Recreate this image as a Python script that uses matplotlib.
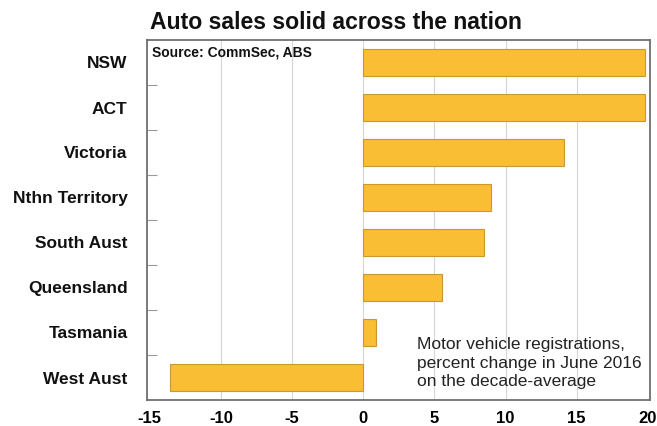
import matplotlib
matplotlib.use("Agg")
import matplotlib.pyplot as plt
import numpy as np

plt.rcParams['font.family'] = ['Liberation Sans', 'DejaVu Sans']

states = ["NSW", "ACT", "Victoria", "Nthn Territory", "South Aust",
          "Queensland", "Tasmania", "West Aust"]
pct_change = [19.8, 19.8, 14.1, 9.0, 8.5, 5.5, 0.9, -13.6]
x_ticks = [-15, -10, -5, 0, 5, 10, 15, 20]

fig = plt.figure(figsize=(6.57, 4.26), dpi=100)
ax = fig.add_axes([147 / 657, 1 - 400 / 426, (650 - 147) / 657, (400 - 40) / 426])

ypos = np.arange(len(states))
ax.barh(ypos, pct_change, height=0.62, color="#F9BE33", edgecolor="#C9982F",
        linewidth=0.8, zorder=3)

ax.set_xlim(-15.2, 20.15)
ax.set_ylim(len(states) - 0.5, -0.5)

ax.set_xticks(x_ticks)
ax.set_xticklabels([str(t) for t in x_ticks], fontsize=12, fontweight="bold")
ax.tick_params(axis="x", length=0, pad=8)
for t in x_ticks:
    if t not in (-15, 20):
        ax.axvline(t, color="#D6D6D6", linewidth=0.8, zorder=1)

ax.set_yticks(ypos)
ax.set_yticklabels(states, fontsize=12.5, fontweight="bold", color="#111111")
ax.tick_params(axis="y", length=0, pad=14)
# small category separator ticks on the left edge
ax.set_yticks(np.arange(0.5, len(states) - 0.5, 1.0), minor=True)
ax.tick_params(axis="y", which="minor", direction="in", length=7,
               color="#9A9A9A", width=0.8)

for side in ["left", "right", "top", "bottom"]:
    ax.spines[side].set_color("#707070")
    ax.spines[side].set_linewidth(1.3)

ax.text(0.01, 0.985, "Source: CommSec, ABS", transform=ax.transAxes,
        fontsize=10, fontweight="bold", va="top", ha="left", color="#111111")

ax.text(3.75, 6.1,
        "Motor vehicle registrations,\npercent change in June 2016\non the decade-average",
        fontsize=12.5, ha="left", va="top", linespacing=1.3, color="#222222")

fig.text(150 / 657, 1 - 22.5 / 426, "Auto sales solid across the nation",
         fontsize=16.6, fontweight="bold", ha="left", va="center", color="#111111")

fig.savefig("out.png", dpi=100)
